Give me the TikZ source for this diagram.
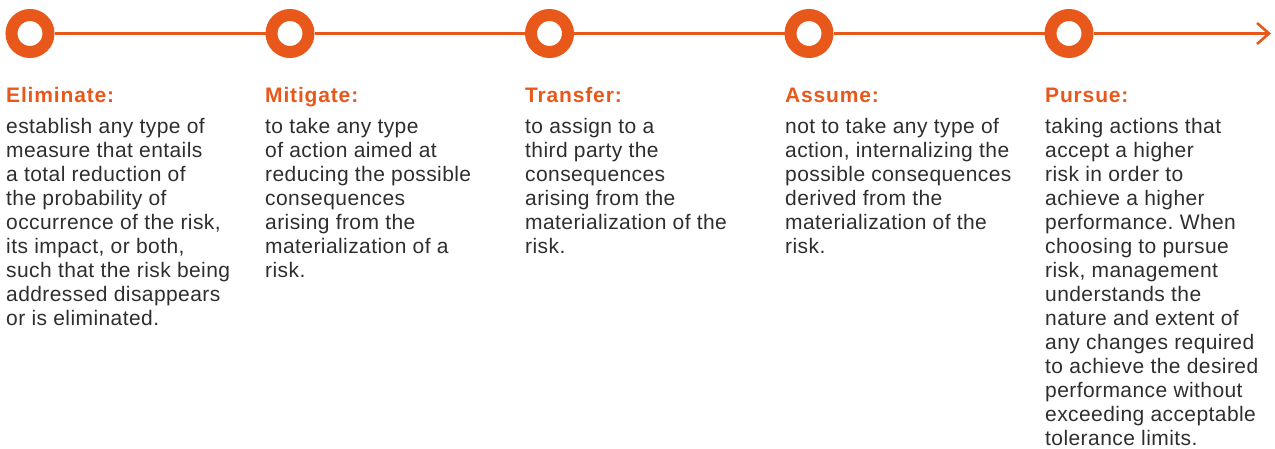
\documentclass[tikz,border=0pt]{standalone}
\usepackage{fontspec}
\setmainfont{Liberation Sans}
\newfontfamily\bodyfont[LetterSpace=2]{Liberation Sans}
\newfontfamily\titlefont[LetterSpace=4]{Liberation Sans Bold}
\usetikzlibrary{arrows.meta}
\definecolor{rorange}{HTML}{E8581A}
\definecolor{rtext}{HTML}{2E2E2E}
\frenchspacing
\tikzset{
  ring/.style={circle, draw=rorange, line width=12pt, fill=white, minimum size=37pt, inner sep=0pt},
  tline/.style={draw=rorange, line width=2.6pt},
  title/.style={anchor=base west, inner sep=0pt, text=rorange, font=\titlefont\fontsize{21}{24}\selectfont},
  body/.style={anchor=north west, inner sep=0pt, align=left, text=rtext, font=\bodyfont\fontsize{21}{24}\selectfont\frenchspacing}
}
\begin{document}
\begin{tikzpicture}[x=1pt,y=-1pt]
\useasboundingbox (0,0) rectangle (1275,449);
\node[ring] (c1) at (30,33.5) {};
\node[ring] (c2) at (290,33.5) {};
\node[ring] (c3) at (549.5,33.5) {};
\node[ring] (c4) at (809,33.5) {};
\node[ring] (c5) at (1069,33.5) {};
\coordinate (end) at (1271,33.5);
\draw[tline] (c1) -- (c2);
\draw[tline] (c2) -- (c3);
\draw[tline] (c3) -- (c4);
\draw[tline] (c4) -- (c5);
\draw[tline, -{Straight Barb[length=12pt,width=21pt]}] (c5) -- (end);

\node[title] (t1) at (6,103) {Eliminate:};
\node[title] (t2) at (265,103) {Mitigate:};
\node[title] (t3) at (525,103) {Transfer:};
\node[title] (t4) at (785,103) {Assume:};
\node[title] (t5) at (1045,103) {Pursue:};

\node[body] (b1) at (6,116.8) {\strut establish any type of\\measure that entails\\a total reduction of\\the probability of\\occurrence of the risk,\\its impact, or both,\\such that the risk being\\addressed disappears\\or is eliminated.};
\node[body] (b2) at (265,116.8) {\strut to take any type\\of action aimed at\\reducing the possible\\consequences\\arising from the\\materialization of a\\risk.};
\node[body] (b3) at (525,116.8) {\strut to assign to a\\third party the\\consequences\\arising from the\\materialization of the\\risk.};
\node[body] (b4) at (785,116.8) {\strut not to take any type of\\action, internalizing the\\possible consequences\\derived from the\\materialization of the\\risk.};
\node[body] (b5) at (1045,116.8) {\strut taking actions that\\accept a higher\\risk in order to\\achieve a higher\\performance. When\\choosing to pursue\\risk, management\\understands the\\nature and extent of\\any changes required\\to achieve the desired\\performance without\\exceeding acceptable\\tolerance limits.};
\end{tikzpicture}
\end{document}
